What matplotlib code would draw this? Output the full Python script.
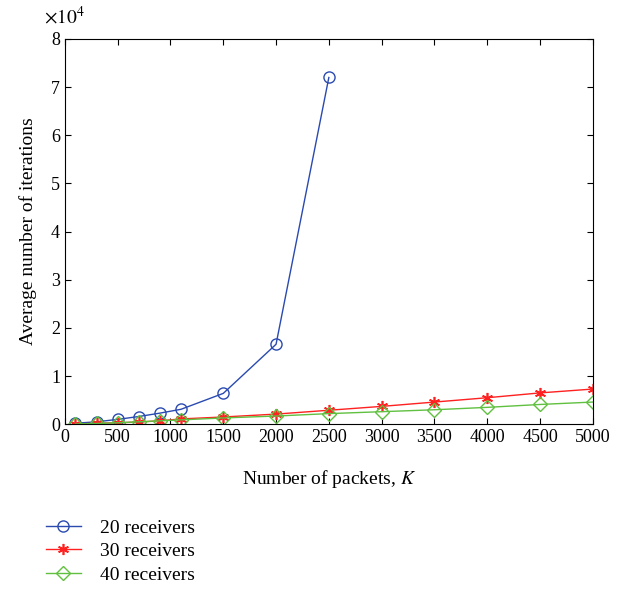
import matplotlib
matplotlib.use("Agg")
import matplotlib.pyplot as plt

plt.rcParams["font.family"] = ["Liberation Serif", "DejaVu Serif"]
plt.rcParams["mathtext.fontset"] = "stix"

# packets K
k_20 = [100, 300, 500, 700, 900, 1100, 1500, 2000, 2500]
k_all = [100, 300, 500, 700, 900, 1100, 1500, 2000, 2500, 3000, 3500, 4000, 4500, 5000]

iters_20 = [200, 500, 1000, 1600, 2300, 3100, 6400, 16600, 72000]
iters_30 = [50, 200, 300, 450, 700, 1100, 1500, 2100, 2900, 3700, 4600, 5500, 6500, 7300]
iters_40 = [50, 150, 300, 500, 700, 900, 1300, 1700, 2200, 2600, 3000, 3500, 4100, 4600]

labels = ["20 receivers", "30 receivers", "40 receivers"]

fig = plt.figure(figsize=(6.24, 5.9), dpi=100)
ax = fig.add_axes([0.104, 0.281, 0.846, 0.653])

ax.plot(k_20, iters_20, color="#2a4ab0", marker="o", markersize=8,
        markerfacecolor="none", linewidth=1, label=labels[0])
ax.plot(k_all, iters_30, color="#ff2020", marker=(6, 2, 0), markersize=8,
        markeredgewidth=1.2, linewidth=1, label=labels[1])
ax.plot(k_all, iters_40, color="#60c040", marker="D", markersize=7,
        markerfacecolor="none", linewidth=1, label=labels[2])

ax.set_xlim(0, 5000)
ax.set_ylim(0, 80000)
ax.set_xticks(range(0, 5001, 500))
ax.set_yticks(range(0, 80001, 10000))
ax.set_yticklabels([str(i) for i in range(9)])
ax.tick_params(direction="in", top=True, right=True, labelsize=13, length=4)
ax.text(-0.04, 1.03, r"$\times10^4$", transform=ax.transAxes, fontsize=14,
        ha="left", va="bottom")

ax.set_xlabel("Number of packets, $K$", fontsize=14, labelpad=16)
ax.set_ylabel("Average number of iterations", fontsize=14, labelpad=10)

fig.legend(loc="upper left", bbox_to_anchor=(0.045, 0.15), frameon=False,
           fontsize=14, handlelength=1.8, handletextpad=1.0, labelspacing=0.3)

fig.savefig("out.png", dpi=100)
